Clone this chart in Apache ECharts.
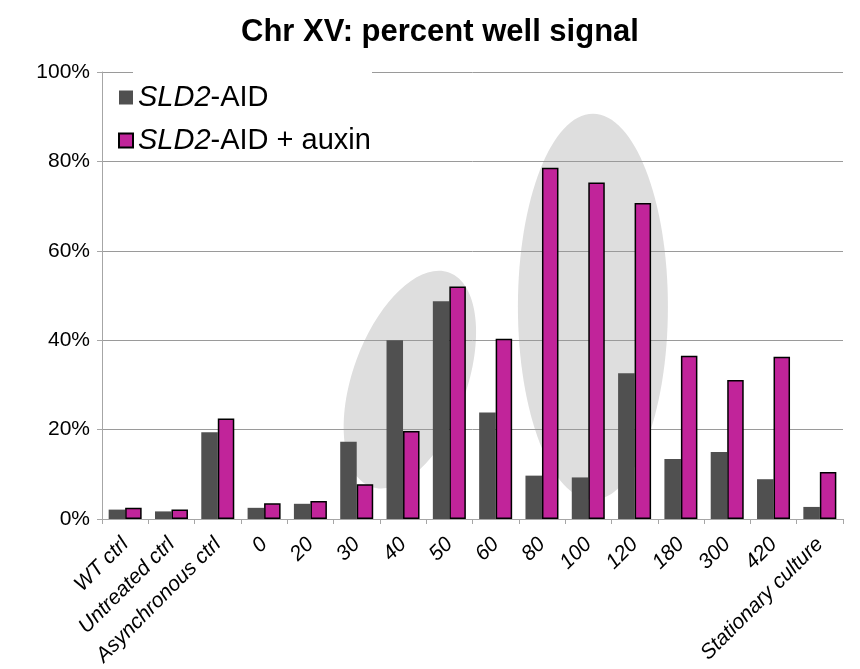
<!DOCTYPE html>
<html>
<head>
<meta charset="utf-8">
<script src="https://cdn.jsdelivr.net/npm/echarts@6/dist/echarts.min.js"></script>
<style>
  html, body { margin: 0; padding: 0; background: #fff; }
  #chart { width: 860px; height: 669px; }
</style>
</head>
<body>
<div id="chart"></div>
<script>
// time points (min) and controls
var categories = ['WT ctrl', 'Untreated ctrl', 'Asynchronous ctrl', '0', '20', '30', '40', '50',
  '60', '80', '100', '120', '180', '300', '420', 'Stationary culture'];
// percent well signal
var sld2Aid = [2.1, 1.7, 19.4, 2.5, 3.4, 17.3, 40.0, 48.7, 23.8, 9.7, 9.3, 32.6, 13.4, 15.0, 8.9, 2.7];
var sld2AidAuxin = [2.5, 2.1, 22.5, 3.5, 4.0, 7.8, 19.7, 52.0, 40.3, 78.6, 75.3, 70.7, 36.5, 31.1, 36.3, 10.5];
var yTicks = [0, 20, 40, 60, 80, 100];

var font = "'Liberation Sans', Arial, Helvetica, sans-serif";
var chart = echarts.init(document.getElementById('chart'));

chart.setOption({
  animation: false,
  title: {
    text: 'Chr XV: percent well signal',
    left: 236,
    top: 12,
    textStyle: { fontFamily: font, fontSize: 31, fontWeight: 'bold', color: '#000' }
  },
  legend: {
    orient: 'vertical',
    left: 113,
    top: 78,
    itemWidth: 14,
    itemHeight: 14,
    itemGap: 14,
    icon: 'rect',
    data: ['SLD2-AID', 'SLD2-AID + auxin'],
    formatter: function (name) {
      return name.replace('SLD2', '{i|SLD2}');
    },
    textStyle: {
      fontFamily: font, fontSize: 29, color: '#000',
      rich: { i: { fontFamily: font, fontSize: 29, fontStyle: 'italic', color: '#000' } }
    }
  },
  grid: { left: 102, right: 17, top: 72, bottom: 150 },
  xAxis: {
    type: 'category',
    data: categories,
    axisLine: { lineStyle: { color: '#a6a6a6', width: 1 } },
    axisTick: { show: true, length: 5, lineStyle: { color: '#a6a6a6' } },
    axisLabel: {
      interval: 0,
      rotate: 45,
      margin: 22,
      fontFamily: font,
      fontSize: 21,
      fontStyle: 'italic',
      color: '#000'
    }
  },
  yAxis: {
    type: 'value',
    min: 0,
    max: 100,
    interval: 20,
    axisLine: { show: true, lineStyle: { color: '#a6a6a6' } },
    axisTick: { show: true, length: 5, lineStyle: { color: '#a6a6a6' } },
    splitLine: { lineStyle: { color: '#9a9a9a', width: 1 } },
    axisLabel: {
      margin: 12,
      fontFamily: font,
      fontSize: 21,
      color: '#000',
      formatter: function (v) { return yTicks.indexOf(v) >= 0 ? v + '%' : ''; }
    }
  },
  series: [
    {
      name: 'SLD2-AID',
      type: 'bar',
      data: sld2Aid,
      barWidth: 16.5,
      barGap: '0%',
      itemStyle: { color: '#505050' }
    },
    {
      name: 'SLD2-AID + auxin',
      type: 'bar',
      data: sld2AidAuxin,
      barWidth: 16.5,
      barGap: '0%',
      itemStyle: { color: '#c1249a', borderColor: '#000', borderWidth: 1.5 }
    }
  ]
});

// grey highlight ellipses, placed on the axes' scales
function at(idx, frac, val) {
  var p0 = chart.convertToPixel({ gridIndex: 0 }, [idx, val]);
  var p1 = chart.convertToPixel({ gridIndex: 0 }, [idx + 1, val]);
  return [p0[0] + (p1[0] - p0[0]) * frac, p0[1]];
}
var c1 = at(6, 0.15, 31.2);
var c2 = at(10, 0.1, 47.5);
chart.setOption({
  graphic: [
    {
      type: 'ellipse',
      x: c1[0], y: c1[1],
      rotation: -20 * Math.PI / 180,
      shape: { cx: 0, cy: 0, rx: 57, ry: 114 },
      style: { fill: '#dedede' },
      z: -1
    },
    {
      type: 'ellipse',
      x: c2[0], y: c2[1],
      shape: { cx: 0, cy: 0, rx: 75, ry: 193 },
      style: { fill: '#dedede' },
      z: -1
    },
    {
      type: 'rect',
      shape: { x: 133, y: 66, width: 239, height: 10 },
      style: { fill: '#fff' },
      z: 1
    }
  ]
});
</script>
</body>
</html>
